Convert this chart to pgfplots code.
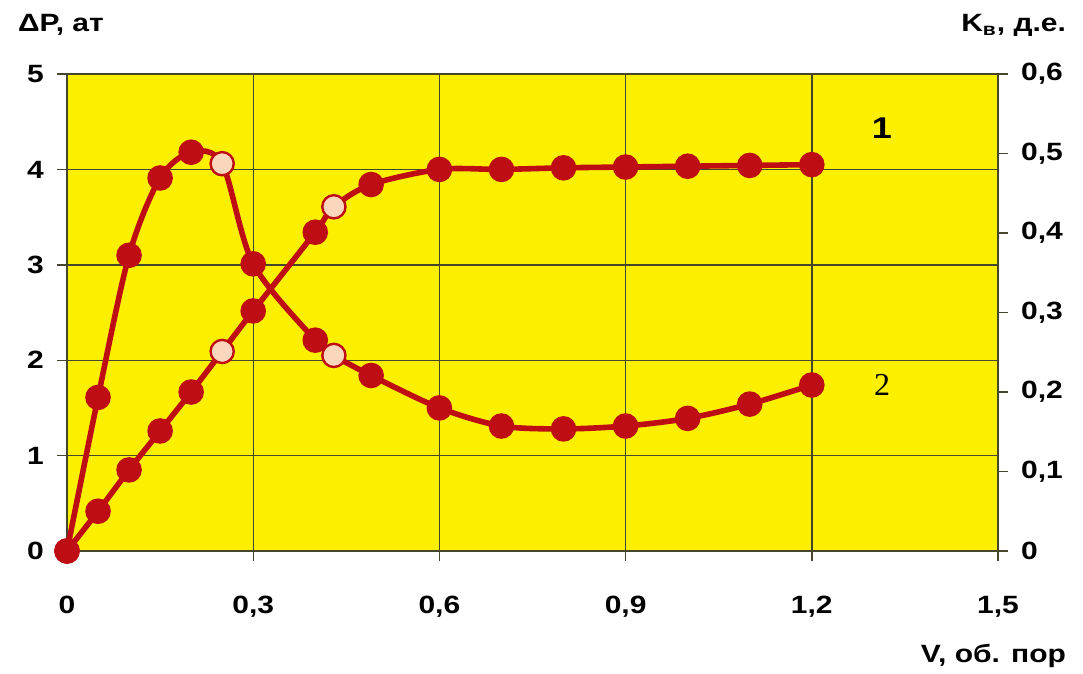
\documentclass[border=0pt]{standalone}
\usepackage{fontspec}
\setmainfont{Liberation Sans}[FakeStretch=1.2]
\newfontfamily\serifnum{Liberation Serif}
\usepackage{pgfplots}
\pgfplotsset{compat=1.18}

\definecolor{bgyellow}{RGB}{252,240,0}
\definecolor{curvered}{RGB}{190,14,20}
\definecolor{markpink}{RGB}{250,214,188}
\definecolor{gridc}{RGB}{70,70,45}

\pgfplotsset{
  base/.style={
    scale only axis, width=465.5pt, height=238.5pt,
    at={(0,0)}, anchor=south west,
    xmin=0, xmax=1.5, xtick={0,0.3,0.6,0.9,1.2,1.5},
    tick label style={font=\fontsize{12.5}{14}\selectfont\bfseries},
    /pgf/number format/assume math mode=true,
    /pgf/number format/use comma,
    tick align=outside, major tick length=5pt,
    tick style={gridc, line width=0.7pt},
    axis line style={gridc, line width=0.8pt},
  },
  curve/.style={
    smooth, curvered, line width=2.8pt,
    scatter, scatter src=explicit symbolic, mark=*, mark size=5.8pt,
    mark options={solid, draw=curvered, line width=1.2pt},
    scatter/classes={d={fill=curvered}, l={fill=markpink}},
  },
}

\begin{document}
\begin{tikzpicture}
% pressure drop, left scale
\begin{axis}[base,
    ymin=0, ymax=5, ytick={0,1,2,3,4,5},
    xtick pos=lower, ytick pos=left,
    grid=major, major grid style={gridc, line width=0.7pt},
    axis background/.style={fill=bgyellow},
    yticklabel style={xshift=-3pt},
    xticklabel style={yshift=-14pt},
  ]
  \addplot[curve] coordinates {
    (0,0)[d] (0.05,1.61)[d] (0.1,3.10)[d] (0.15,3.91)[d] (0.2,4.18)[d]
    (0.25,4.06)[l] (0.3,3.01)[d] (0.4,2.21)[d] (0.43,2.05)[l]
    (0.49,1.84)[d] (0.6,1.50)[d] (0.7,1.31)[d] (0.8,1.28)[d]
    (0.9,1.31)[d] (1.0,1.39)[d] (1.1,1.54)[d] (1.2,1.74)[d]
  };
\end{axis}
% displacement coefficient, right scale
\begin{axis}[base,
    ymin=0, ymax=0.6, ytick={0,0.1,0.2,0.3,0.4,0.5,0.6},
    axis y line*=right, axis x line=none,
    yticklabel style={xshift=3pt},
  ]
  \addplot[curve] coordinates {
    (0,0)[d] (0.05,0.050)[d] (0.1,0.102)[d] (0.15,0.151)[d] (0.2,0.200)[d]
    (0.25,0.251)[l] (0.3,0.302)[d] (0.4,0.401)[d] (0.43,0.433)[l]
    (0.49,0.461)[d] (0.6,0.480)[d] (0.7,0.480)[d] (0.8,0.482)[d]
    (0.9,0.483)[d] (1.0,0.484)[d] (1.1,0.485)[d] (1.2,0.486)[d]
  };
\end{axis}
\node[anchor=base west, font=\fontsize{12.5}{14}\selectfont\bfseries] at (-28pt,259.5pt) {ΔP, ат};
\node[anchor=base east, font=\fontsize{12.5}{14}\selectfont\bfseries] at (503pt,259.5pt) {K\textsubscript{в}, д.е.};
\node[anchor=base east, font=\fontsize{12.5}{14}\selectfont\bfseries] at (503pt,-55.5pt) {V, об. пор};
\node[font=\fontsize{15}{17}\selectfont\bfseries] at (407.5pt,211.5pt) {1};
\node[font=\fontsize{16}{18}\selectfont\serifnum] at (407.5pt,83pt) {2};
\path[use as bounding box] (-33.5pt,-59pt) rectangle (508pt,275.5pt);
\end{tikzpicture}
\end{document}
